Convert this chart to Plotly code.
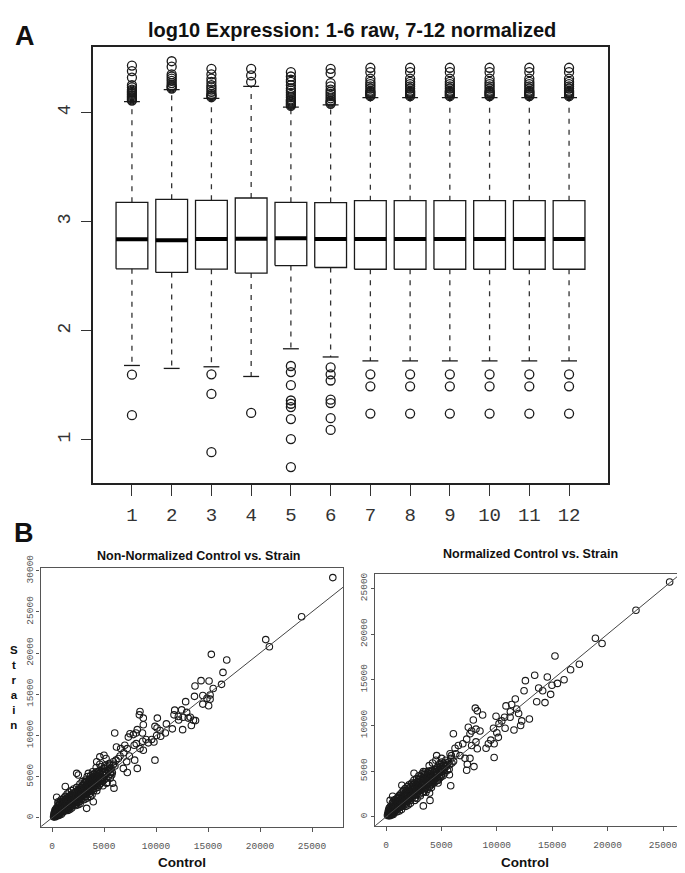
import plotly.graph_objects as go

PAGE_W, PAGE_H = 685, 873
OFF = 8                       # default page margin around the plot div
W, H = PAGE_W - OFF, PAGE_H - OFF

# ---------------- Panel A data (log10 expression) ----------------
samples = [str(i) for i in range(1, 13)]
positions = list(range(1, 13))
q1 = [2.567, 2.534, 2.564, 2.528, 2.597, 2.579, 2.563, 2.563, 2.563, 2.563, 2.563, 2.563]
median = [2.838, 2.829, 2.840, 2.843, 2.847, 2.840, 2.840, 2.840, 2.840, 2.840, 2.840, 2.840]
q3 = [3.177, 3.204, 3.195, 3.216, 3.177, 3.174, 3.192, 3.192, 3.192, 3.192, 3.192, 3.192]
whisker_low = [1.681, 1.654, 1.669, 1.580, 1.834, 1.759, 1.723, 1.723, 1.723, 1.723, 1.723, 1.723]
whisker_high = [4.10, 4.21, 4.13, 4.24, 4.05, 4.07, 4.137, 4.137, 4.137, 4.137, 4.137, 4.137]
norm_high = [4.15, 4.16, 4.17, 4.18, 4.19, 4.20, 4.22, 4.24, 4.26, 4.28, 4.31, 4.37, 4.41]
norm_low = [1.60, 1.49, 1.24]
outliers_high = [
    [4.11, 4.12, 4.13, 4.14, 4.15, 4.16, 4.17, 4.18, 4.19, 4.20, 4.21, 4.23, 4.25, 4.32, 4.38, 4.43],
    [4.22, 4.23, 4.24, 4.25, 4.27, 4.29, 4.31, 4.33, 4.35, 4.42, 4.47],
    [4.14, 4.15, 4.16, 4.17, 4.19, 4.21, 4.23, 4.25, 4.28, 4.31, 4.35, 4.40],
    [4.28, 4.34, 4.40],
    [4.06, 4.07, 4.08, 4.09, 4.10, 4.11, 4.12, 4.14, 4.16, 4.18, 4.20, 4.22, 4.25, 4.28, 4.30, 4.33, 4.37],
    [4.08, 4.09, 4.10, 4.11, 4.13, 4.15, 4.17, 4.19, 4.21, 4.24, 4.27, 4.36, 4.40],
    norm_high, norm_high, norm_high, norm_high, norm_high, norm_high,
]
outliers_low = [
    [1.597, 1.225],
    [],
    [1.60, 1.42, 0.886],
    [1.246],
    [1.676, 1.62, 1.50, 1.36, 1.33, 1.30, 1.19, 1.006, 0.75],
    [1.664, 1.60, 1.543, 1.367, 1.336, 1.198, 1.09],
    norm_low, norm_low, norm_low, norm_low, norm_low, norm_low,
]
a_yticks = [1, 2, 3, 4]

# ---------------- Panel B data (Control vs Strain) ----------------
raw_points = [
    (150, 120), (180, 260), (220, 400), (260, 180), (300, 330), (320, 520), (360, 250), (380, 700), (400, 420), (430, 900),
    (460, 300), (480, 600), (500, 1150), (520, 450), (560, 780), (580, 1800), (600, 350), (620, 980), (650, 620), (680, 1300),
    (700, 480), (720, 820), (750, 1600), (780, 1050), (800, 600), (820, 1350), (850, 880), (870, 2200), (900, 700), (920, 1150),
    (950, 1500), (980, 950), (1000, 2000), (1020, 800), (1050, 1250), (1080, 1700), (1100, 1000), (1130, 2400), (1150, 1450), (1180, 850),
    (1200, 1150), (1230, 1900), (1250, 1350), (1280, 2600), (1300, 950), (1330, 1600), (1350, 2200), (1380, 1200), (1400, 1800), (1430, 1050),
    (1450, 2900), (1480, 1450), (1500, 2000), (1530, 1250), (1550, 2450), (1580, 1700), (1600, 1100), (1630, 2100), (1650, 3100), (1680, 1500),
    (1700, 2300), (1730, 1300), (1750, 1900), (1780, 2700), (1800, 1650), (1830, 2150), (1850, 1400), (1880, 3300), (1900, 2450), (1930, 1800),
    (1950, 2000), (1980, 2900), (2000, 1500), (2050, 2250), (2080, 3500), (2100, 1750), (2150, 2600), (2180, 2000), (2200, 3100), (2250, 1650),
    (2280, 2400), (2300, 2800), (2350, 1900), (2380, 3700), (2400, 2250), (2450, 2650), (2480, 3300), (2500, 1850), (2550, 2950), (2580, 2200),
    (2600, 3500), (2650, 2500), (2680, 4100), (2700, 2000), (2750, 3100), (2780, 2750), (2800, 3700), (2850, 2300), (2880, 3300), (2900, 4400),
    (2950, 2650), (2980, 3000), (3000, 3900), (3050, 2200), (3080, 3500), (3100, 4200), (3150, 2900), (3180, 3250), (3200, 4600), (3250, 2600),
    (3280, 3700), (3300, 4000), (3350, 3050), (3380, 5000), (3400, 2400), (3450, 3500), (3480, 4300), (3500, 3200), (3550, 3850), (3580, 4700),
    (3600, 2900), (3650, 4100), (3680, 3500), (3700, 5100), (3750, 3200), (3780, 4400), (3800, 3800), (3850, 2800), (3880, 4700), (3900, 4050),
    (3950, 3500), (3980, 5300), (4000, 3300), (4050, 4300), (4080, 3800), (4100, 4900), (4150, 3600), (4180, 4550), (4200, 5200), (4250, 3900),
    (4300, 4800), (4330, 4200), (4380, 5500), (4400, 3700), (4450, 4500), (4500, 5000), (4550, 4000), (4600, 5400), (4650, 4700), (4700, 4200),
    (4750, 5700), (4800, 4900), (4850, 4400), (4900, 5300), (4950, 6000), (5000, 4600), (5050, 5100), (5100, 5600), (5200, 4800), (5250, 5400),
    (5300, 6200), (5400, 5000), (5450, 5700), (5550, 6400), (5600, 5300), (5700, 6000), (5800, 5500),
    (200, 550), (250, 650), (280, 900), (350, 1000), (420, 1200), (450, 700), (530, 950), (570, 1400), (640, 800), (660, 1600),
    (730, 1100), (760, 1900), (830, 1000), (880, 1250), (940, 1750), (990, 1300), (1040, 1550), (1070, 2200), (1120, 1200), (1170, 1700),
    (1210, 2100), (1270, 1600), (1320, 1300), (1360, 1900), (1420, 2400), (1460, 1650), (1520, 1800), (1570, 2200), (1620, 1500), (1660, 2600),
    (1720, 2000), (1760, 1700), (1820, 2500), (1870, 1950), (1920, 2200), (1970, 2600), (2020, 2000), (2070, 2900), (2130, 2300), (2170, 1900),
    (2230, 2800), (2270, 2100), (2330, 3200), (2370, 2600), (2420, 2000), (2470, 3000), (2520, 2500), (2570, 3400), (2630, 2800), (2670, 3200),
    (2720, 2400), (2770, 3500), (2830, 2900), (2870, 2600), (2930, 3400), (2970, 4000), (3030, 3200), (3070, 2800), (3130, 3700), (3170, 4300),
    (3230, 3400), (3270, 2900), (3330, 4400), (3370, 3700), (3430, 3100), (3470, 4000), (3530, 4600), (3570, 3500), (3630, 3300), (3670, 4600),
    (3730, 3900), (3770, 4800), (3830, 3400), (3870, 4200), (3930, 4900), (3970, 3800), (4030, 4700), (4070, 5300), (4130, 4100), (4170, 5000),
    (4230, 4400), (4270, 5600), (4350, 4600), (4420, 5200), (4480, 4300), (4530, 5700), (4620, 5000), (4680, 4500), (4730, 6200), (4830, 5300),
    (4880, 4800), (4980, 5600), (5080, 6300), (5150, 5300), (5350, 5800), (5500, 6600), (5650, 5600), (5900, 6500), (6050, 6300), (6150, 7000),
    (4250, 6100), (4600, 6500), (3900, 5600), (5300, 4300), (4900, 3900), (4300, 3300), (3700, 2600), (3200, 2300), (2700, 1700), (2300, 1500),
    (1900, 1200), (1500, 900), (1100, 700), (700, 300), (400, 150), (250, 120), (900, 450), (1700, 1000), (2500, 1600),
    (27000, 29150), (24000, 24400), (20550, 21630), (20900, 20760), (15320, 19840), (16800, 19160), (16440, 17650),
    (14330, 16650), (15100, 16600), (13750, 16000), (16300, 16200), (15500, 15700), (13700, 14740), (14500, 14850),
    (15200, 14900), (14900, 14500), (14500, 13800), (15060, 13600), (15200, 14400), (12850, 14100), (11800, 13070),
    (12470, 13100), (12950, 12800), (11730, 12500), (12150, 12300), (12600, 12200), (13100, 12100), (12180, 11870),
    (11570, 10800), (12560, 10700), (13300, 12200), (13800, 11800), (13600, 11850), (13400, 11200), (11000, 11400),
    (8460, 12900), (8400, 12500), (8780, 12100), (10130, 12100), (8200, 10700), (8070, 10300), (8700, 10300),
    (8780, 11300), (9900, 11100), (10100, 10900), (10400, 10600), (10900, 10300), (10450, 9900), (10060, 10000),
    (9580, 9500), (9260, 9100), (9800, 9200), (9040, 9500), (8720, 9300), (7340, 9800), (7820, 10100), (7500, 10200),
    (8100, 9000), (8780, 8200), (8460, 8400), (7900, 8800), (9900, 7000), (7950, 7000), (8200, 6000), (6030, 10300),
    (6200, 8600), (6600, 8400), (7000, 8800), (7240, 8400), (6900, 7900), (6540, 7500), (7440, 7500), (7180, 6800),
    (6860, 6000), (7240, 5500), (6380, 7200), (5900, 6800), (5580, 6000), (5740, 5200), (5830, 4200), (5960, 3600),
    (5600, 4800), (5250, 4200), (3970, 1950), (3330, 1150), (2530, 5200), (2370, 5400), (3500, 5400), (4600, 7400),
    (5000, 7600), (5200, 7200), (4300, 6800), (1280, 3800), (450, 2500), (600, 1950),
]

norm_points = [
    (130, 180), (170, 320), (210, 120), (240, 480), (270, 260), (300, 650), (330, 180), (360, 420), (390, 820), (410, 300),
    (440, 560), (470, 1050), (500, 380), (530, 720), (560, 1300), (590, 520), (620, 900), (650, 360), (680, 1150), (710, 650),
    (740, 1500), (770, 850), (800, 520), (830, 1200), (860, 1800), (890, 720), (920, 1050), (950, 1450), (980, 820), (1010, 2000),
    (1040, 1200), (1070, 950), (1100, 1650), (1130, 1300), (1160, 2300), (1190, 1000), (1220, 1500), (1250, 1850), (1280, 1150), (1310, 2500),
    (1340, 1400), (1370, 1950), (1400, 1100), (1430, 1700), (1460, 2700), (1490, 1350), (1520, 2100), (1550, 1600), (1580, 2900), (1610, 1250),
    (1640, 1900), (1670, 2350), (1700, 1500), (1730, 3100), (1760, 1750), (1790, 2150), (1820, 1400), (1850, 2600), (1880, 2000), (1910, 3300),
    (1940, 1650), (1970, 2300), (2000, 2800), (2050, 1900), (2080, 3500), (2120, 2150), (2160, 2600), (2200, 1800), (2240, 3000), (2280, 2400),
    (2320, 3700), (2360, 2050), (2400, 2750), (2440, 3300), (2480, 2300), (2520, 4000), (2560, 2600), (2600, 3100), (2640, 2100), (2680, 3500),
    (2720, 2850), (2760, 4200), (2800, 2450), (2840, 3250), (2880, 3800), (2920, 2750), (2960, 4500), (3000, 3100), (3050, 2500), (3090, 3600),
    (3130, 4100), (3170, 2900), (3210, 3350), (3250, 4700), (3290, 2700), (3330, 3800), (3370, 3200), (3410, 4300), (3450, 2800), (3490, 3550),
    (3530, 4900), (3570, 3250), (3610, 4000), (3650, 3600), (3690, 4500), (3730, 3000), (3770, 4150), (3810, 3500), (3850, 5000), (3890, 3800),
    (3930, 2600), (3970, 4300), (4010, 3400), (4050, 4700), (4090, 3900), (4130, 5100), (4170, 3600), (4210, 4400), (4250, 4000), (4290, 4850),
    (4330, 3700), (4370, 4200), (4410, 5200), (4450, 4550), (4490, 3900), (4530, 4950), (4570, 4300), (4610, 5400), (4650, 4000), (4690, 4700),
    (4730, 5100), (4770, 4450), (4810, 5700), (4850, 4250), (4900, 4900), (4950, 5300), (5000, 4600), (5050, 6000), (5100, 5000), (5150, 4500),
    (5200, 5600), (5250, 5200), (5300, 4800), (5400, 6200), (5450, 5500), (5550, 5100), (5650, 6000), (5750, 5700), (5850, 6400), (5950, 5900),
    (190, 500), (230, 750), (290, 950), (340, 600), (380, 1100), (450, 850), (520, 1000), (570, 1500), (610, 700), (660, 1700),
    (720, 1000), (760, 1300), (810, 1900), (850, 950), (900, 1550), (960, 1150), (1000, 1700), (1060, 2100), (1110, 1450), (1150, 1100),
    (1200, 1800), (1260, 2300), (1300, 1600), (1360, 1250), (1410, 2100), (1450, 1900), (1510, 1500), (1560, 2400), (1600, 2000), (1660, 1700),
    (1710, 2600), (1750, 2200), (1810, 1800), (1860, 2900), (1900, 2300), (1960, 1900), (2010, 2500), (2060, 3100), (2110, 2600), (2150, 2050),
    (2210, 3300), (2260, 2700), (2310, 2250), (2350, 3100), (2410, 3500), (2460, 2500), (2510, 3000), (2550, 3700), (2610, 2800), (2660, 2400),
    (2710, 3300), (2750, 3800), (2810, 3000), (2860, 2700), (2910, 3600), (2950, 4100), (3010, 3400), (3060, 2900), (3110, 3800), (3160, 4400),
    (3220, 3000), (3260, 3600), (3320, 4200), (3360, 3400), (3420, 4600), (3460, 3800), (3520, 3100), (3560, 4200), (3620, 4700), (3660, 3400),
    (3720, 4000), (3760, 4800), (3820, 3700), (3860, 4400), (3920, 3300), (3960, 4700), (4020, 4100), (4060, 3600), (4120, 4500), (4160, 5000),
    (4220, 3800), (4280, 4300), (4340, 5000), (4400, 4100), (4460, 4800), (4520, 4300), (4580, 5200), (4640, 4600), (4720, 4000), (4780, 5000),
    (4880, 5500), (4970, 4400), (5080, 5300), (5180, 5900), (5320, 5500), (5500, 5900), (5700, 5200), (5900, 6700), (6100, 6100), (6300, 6900),
    (3900, 5600), (4200, 5900), (4500, 6200), (4700, 3700), (4100, 3200), (3600, 2700), (3100, 2300), (2600, 1800), (2200, 1500), (1800, 1150),
    (1400, 800), (1000, 550), (650, 250), (350, 130), (500, 200), (1200, 650), (2000, 1300), (2800, 2000),
    (25600, 25700), (22560, 22600), (18900, 19540), (19500, 18970), (15250, 17600), (17450, 16700), (16660, 16100),
    (16070, 15000), (15470, 14600), (14980, 14400), (14560, 15300), (13420, 15500), (12580, 14900), (13780, 14100),
    (14140, 13800), (12460, 13800), (14860, 13400), (13600, 12600), (14350, 12500), (11670, 12900), (10830, 12140),
    (11340, 12300), (11800, 11800), (11220, 11500), (11970, 11300), (11200, 10900), (12250, 10500), (12940, 10700),
    (12150, 10000), (11550, 9500), (9930, 11000), (10700, 10900), (10450, 10500), (10200, 10200), (10750, 9700),
    (10000, 9200), (9700, 9700), (10140, 8700), (9460, 8400), (9240, 8000), (9760, 8000), (9030, 7500), (9760, 6500),
    (8060, 11900), (8240, 11600), (8720, 11150), (7880, 10600), (7430, 9800), (7730, 9400), (8120, 9600), (8480, 9400),
    (7580, 9100), (8120, 8200), (7730, 7800), (8240, 7450), (7280, 8500), (6930, 8000), (6530, 7800), (6080, 9100),
    (6230, 7500), (5780, 6900), (6680, 6700), (7130, 6400), (7580, 6400), (7340, 5750), (7940, 5500), (7280, 5100),
    (5720, 4600), (5840, 3400), (4870, 5860), (4570, 6700), (5020, 6400), (5470, 5700), (2530, 4770), (3370, 4950),
    (3970, 1800), (3370, 1200), (1430, 3450), (600, 2260), (370, 1800),
]

identity_line = [-5000, 35000]   # abline(0, 1)
b_ticks_left_y = [0, 5000, 10000, 15000, 20000, 25000, 30000]
b_ticks_x = [0, 5000, 10000, 15000, 20000, 25000]
b_ticks_right_y = [0, 5000, 10000, 15000, 20000, 25000]
y_title_b = "Strain"

# ---------------- Layout geometry (page pixels -> paper) ----------------
def fx(px):
    return (px - OFF) / W

def fy(py):
    return 1 - (py - OFF) / H

fig = go.Figure()

# ---- Panel A: build boxplot pieces ----
BW = 0.4   # half box width
CW = 0.2   # half staple width
bx, by, mx, my, wx, wy, cx, cy = [], [], [], [], [], [], [], []
ox, oy = [], []
for i, p in enumerate(positions):
    bx += [p - BW, p + BW, p + BW, p - BW, p - BW, None]
    by += [q1[i], q1[i], q3[i], q3[i], q1[i], None]
    mx += [p - BW, p + BW, None]
    my += [median[i], median[i], None]
    wx += [p, p, None, p, p, None]
    wy += [q3[i], whisker_high[i], None, q1[i], whisker_low[i], None]
    cx += [p - CW, p + CW, None, p - CW, p + CW, None]
    cy += [whisker_high[i], whisker_high[i], None, whisker_low[i], whisker_low[i], None]
    for v in outliers_high[i] + outliers_low[i]:
        ox.append(p)
        oy.append(v)

line_col = "#1a1a1a"
fig.add_trace(go.Scatter(x=wx, y=wy, mode="lines", line=dict(color="#333", width=1.3, dash="5px,6px"),
                         xaxis="x", yaxis="y", hoverinfo="skip"))
fig.add_trace(go.Scatter(x=cx, y=cy, mode="lines", line=dict(color=line_col, width=1.3),
                         xaxis="x", yaxis="y", hoverinfo="skip"))
fig.add_trace(go.Scatter(x=bx, y=by, mode="lines", line=dict(color=line_col, width=1.3),
                         xaxis="x", yaxis="y", hoverinfo="skip"))
fig.add_trace(go.Scatter(x=mx, y=my, mode="lines", line=dict(color="#000", width=4),
                         xaxis="x", yaxis="y", hoverinfo="skip"))
fig.add_trace(go.Scatter(x=ox, y=oy, mode="markers",
                         marker=dict(symbol="circle-open", size=9, color=line_col, line=dict(width=1.3)),
                         xaxis="x", yaxis="y", hoverinfo="skip"))

# ---- Panel B scatters ----
raw_c = [p[0] for p in raw_points]
raw_s = [p[1] for p in raw_points]
norm_c = [p[0] for p in norm_points]
norm_s = [p[1] for p in norm_points]

mk = dict(symbol="circle-open", size=6.5, color="#1a1a1a", line=dict(width=1.1))
fig.add_trace(go.Scatter(x=raw_c, y=raw_s, mode="markers", marker=mk, xaxis="x2", yaxis="y2"))
fig.add_trace(go.Scatter(x=identity_line, y=identity_line, mode="lines",
                         line=dict(color="#444", width=1), xaxis="x2", yaxis="y2"))
fig.add_trace(go.Scatter(x=norm_c, y=norm_s, mode="markers", marker=mk, xaxis="x3", yaxis="y3"))
fig.add_trace(go.Scatter(x=identity_line, y=identity_line, mode="lines",
                         line=dict(color="#444", width=1), xaxis="x3", yaxis="y3"))

mono = "Liberation Mono, DejaVu Sans Mono, monospace"
sans = "Liberation Sans, Arial, sans-serif"

axA = dict(showgrid=False, zeroline=False, showline=True, mirror=True, linecolor="#222", linewidth=1.5,
           ticks="outside", tickcolor="#333", tickwidth=1.3)
axB = dict(showgrid=False, zeroline=False, showline=True, mirror=True, linecolor="#555", linewidth=1.2,
           ticks="outside", tickcolor="#555", tickwidth=1, ticklen=4,
           tickfont=dict(family=mono, size=9.5, color="#555"))

fig.update_layout(
    width=W, height=H, margin=dict(l=0, r=0, t=0, b=0),
    paper_bgcolor="white", plot_bgcolor="white", showlegend=False,
    xaxis=dict(axA, domain=[fx(93), fx(608)], range=[0.02, 12.98], tickmode="array",
               tickvals=positions, ticktext=samples, ticklen=11, anchor="y",
               tickfont=dict(family=mono, size=19, color="#333"), ticklabelstandoff=2),
    yaxis=dict(axA, domain=[fy(477), fy(34)], range=[0.604, 4.604], tickmode="array",
               tickvals=a_yticks, ticktext=[str(v) for v in a_yticks], ticklen=10, tickangle=-90,
               anchor="x", tickfont=dict(family=mono, size=18, color="#333"), ticklabelstandoff=4),
    xaxis2=dict(axB, domain=[fx(40.5), fx(343)], range=[-1106, 27980], tickmode="array",
                tickvals=b_ticks_x, ticktext=[str(v) for v in b_ticks_x], anchor="y2", ticklabelstandoff=6),
    yaxis2=dict(axB, domain=[fy(826), fy(563)], range=[-1076, 30358], tickmode="array",
                tickvals=b_ticks_left_y, ticktext=[str(v) for v in b_ticks_left_y],
                tickangle=-90, anchor="x2", ticklen=3, ticklabelstandoff=0),
    xaxis3=dict(axB, domain=[fx(375), fx(682)], range=[-993, 26715], tickmode="array",
                tickvals=b_ticks_x, ticktext=[str(v) for v in b_ticks_x], anchor="y3", ticklabelstandoff=6),
    yaxis3=dict(axB, domain=[fy(825), fy(569)], range=[-970, 26616], tickmode="array",
                tickvals=b_ticks_right_y, ticktext=[str(v) for v in b_ticks_right_y],
                tickangle=-90, anchor="x3", ticklen=3, ticklabelstandoff=0),
)

ann = [
    dict(text="<b>A</b>", x=fx(25), y=fy(23), font=dict(family=sans, size=27, color="#111")),
    dict(text="<b>B</b>", x=fx(24), y=fy(528), font=dict(family=sans, size=27, color="#111")),
    dict(text="<b>log10 Expression: 1-6 raw, 7-12 normalized</b>", x=fx(352), y=fy(17),
         font=dict(family=sans, size=20, color="#111")),
    dict(text="<b>Non-Normalized Control vs. Strain</b>", x=fx(199), y=fy(551),
         font=dict(family=sans, size=12.5, color="#111")),
    dict(text="<b>Normalized Control vs. Strain</b>", x=fx(530), y=fy(549),
         font=dict(family=sans, size=12.5, color="#111")),
    dict(text="<b>Control</b>", x=fx(182), y=fy(862), font=dict(family=sans, size=13.5, color="#111")),
    dict(text="<b>Control</b>", x=fx(525), y=fy(862), font=dict(family=sans, size=13.5, color="#111")),
    dict(text="<b>" + "<br>".join(y_title_b) + "</b>", x=fx(14), y=fy(685),
         font=dict(family=sans, size=11.5, color="#111")),
]
for a in ann:
    a.update(xref="paper", yref="paper", showarrow=False, xanchor="center", yanchor="middle")
fig.update_layout(annotations=ann)

fig.write_html("out.html")
